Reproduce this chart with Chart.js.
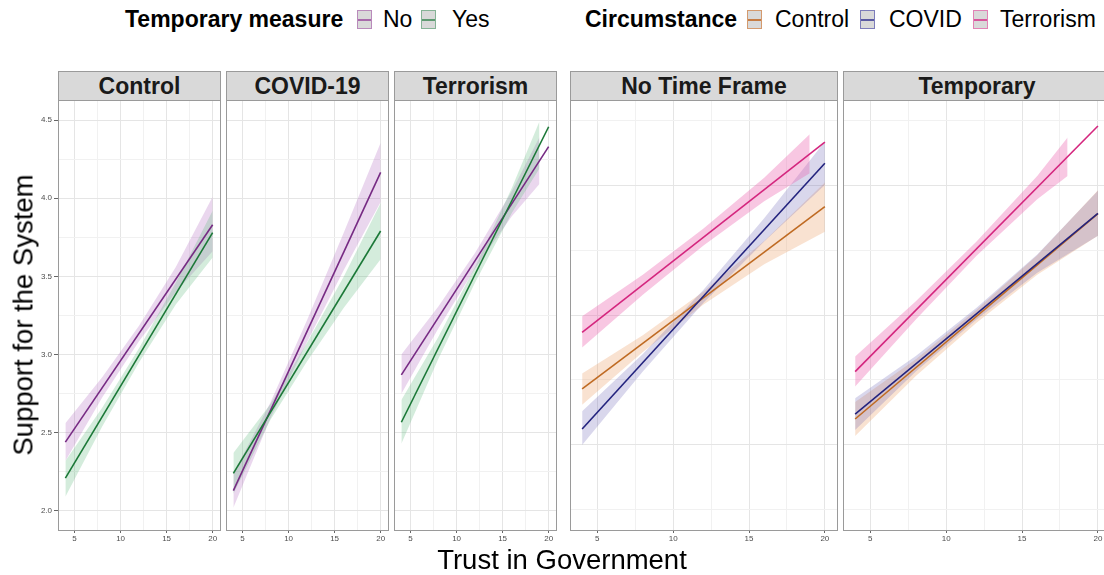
<!DOCTYPE html>
<html>
<head>
<meta charset="utf-8">
<script src="https://cdn.jsdelivr.net/npm/chart.js@4.4.1/dist/chart.umd.min.js"></script>
<style>
  html, body { margin: 0; padding: 0; background: #fff; }
  body { position: relative; width: 1104px; height: 575px; overflow: hidden;
         font-family: "Liberation Sans", Arial, Helvetica, sans-serif; }
  canvas { position: absolute; left: 0; top: 0; }
  .t { position: absolute; white-space: nowrap; color: #000; }
  .lg { font-size: 23px; line-height: 23px; top: 8px; }
  .b { font-weight: bold; }
  .key { position: absolute; top: 10px; width: 15px; height: 19px; box-sizing: border-box;
         border: 1px solid; background: #d9d9d9; }
  .key i { position: absolute; left: 0; right: 0; top: 8px; height: 1.5px; }
  .strip { position: absolute; top: 71px; height: 30px; box-sizing: border-box;
           border: 1px solid #9a9a9a; background: #d9d9d9; font-weight: bold;
           font-size: 23px; line-height: 28px; text-align: center; color: #1a1a1a; white-space: nowrap; }
  .axt { position: absolute; font-size: 27.5px; line-height: 27px; white-space: nowrap; color: #000; }
</style>
</head>
<body>

<!-- legends -->
<div class="t lg b" style="left:125px">Temporary measure</div>
<div class="key" style="left:357px;border-color:#b98abb"><i style="background:#a86aab"></i></div>
<div class="t lg" style="left:383px">No</div>
<div class="key" style="left:421px;border-color:#86b396"><i style="background:#5f9a72"></i></div>
<div class="t lg" style="left:452px">Yes</div>

<div class="t lg b" style="left:585px">Circumstance</div>
<div class="key" style="left:747px;border-color:#d49a6e"><i style="background:#c67c44"></i></div>
<div class="t lg" style="left:775px">Control</div>
<div class="key" style="left:860px;border-color:#7d7dba"><i style="background:#5a5aa2"></i></div>
<div class="t lg" style="left:889px">COVID</div>
<div class="key" style="left:973px;border-color:#e283b6"><i style="background:#d9569c"></i></div>
<div class="t lg" style="left:1000px">Terrorism</div>

<!-- facet strips -->
<div class="strip" style="left:58px;width:163px">Control</div>
<div class="strip" style="left:226px;width:163px">COVID-19</div>
<div class="strip" style="left:394px;width:163px">Terrorism</div>
<div class="strip" style="left:570px;width:268px">No Time Frame</div>
<div class="strip" style="left:843px;width:268px">Temporary</div>

<canvas id="p1" width="1104" height="575"></canvas>
<canvas id="p2" width="1104" height="575"></canvas>
<canvas id="p3" width="1104" height="575"></canvas>
<canvas id="p4" width="1104" height="575"></canvas>
<canvas id="p5" width="1104" height="575"></canvas>

<div class="axt" style="left:562px;top:546px;transform:translateX(-50%)">Trust in Government</div>
<div class="axt" style="left:23px;top:315px;transform:translate(-50%,-50%) rotate(-90deg)">Support for the System</div>

<script>
// Trust in Government positions for fitted lines and confidence bands
const trustLine = [4, 20];
const trustBand = [4, 8, 12, 16, 20];
const trustBand19 = [4, 8, 12, 16, 19];
const trustBand18 = [4, 8, 12, 16, 18];

// Circumstance facets, split by temporary measure (No / Yes)
const controlNoLine = [2.44, 3.83];
const controlNoUpper = [2.56, 2.855, 3.185, 3.56, 4.01];
const controlNoLower = [2.32, 2.725, 3.085, 3.40, 3.66];
const controlYesLine = [2.21, 3.78];
const controlYesUpper = [2.32, 2.66, 3.04, 3.46, 3.92];
const controlYesLower = [2.09, 2.54, 2.95, 3.32, 3.62];

const covidNoLine = [2.13, 4.165];
const covidNoUpper = [2.24, 2.69, 3.22, 3.78, 4.355];
const covidNoLower = [2.02, 2.59, 3.08, 3.54, 3.975];
const covidYesLine = [2.24, 3.79];
const covidYesUpper = [2.37, 2.68, 3.075, 3.50, 3.97];
const covidYesLower = [2.11, 2.58, 2.955, 3.30, 3.61];

const terrorNoLine = [2.87, 4.33];
const terrorNoUpper = [3.00, 3.305, 3.65, 4.045, 4.39];
const terrorNoLower = [2.75, 3.165, 3.55, 3.885, 4.09];
const terrorYesLine = [2.567, 4.457];
const terrorYesUpper = [2.71, 3.11, 3.56, 4.065, 4.49];
const terrorYesLower = [2.43, 2.97, 3.46, 3.905, 4.19];

// Time-frame facets, split by circumstance
const ntfControlLine = [2.431, 3.833];
const ntfControlUpper = [2.55, 2.845, 3.18, 3.57, 4.02];
const ntfControlLower = [2.31, 2.715, 3.08, 3.39, 3.64];
const ntfCovidLine = [2.123, 4.167];
const ntfCovidUpper = [2.26, 2.70, 3.195, 3.745, 4.335];
const ntfCovidLower = [2.00, 2.565, 3.095, 3.565, 4.00];
const ntfTerrorLine = [2.867, 4.33];
const ntfTerrorUpper = [2.99, 3.31, 3.665, 4.055, 4.39];
const ntfTerrorLower = [2.75, 3.155, 3.535, 3.875, 4.09];

const tmpControlLine = [2.20, 3.78];
const tmpControlUpper = [2.33, 2.66, 3.04, 3.46, 3.96];
const tmpControlLower = [2.07, 2.53, 2.94, 3.31, 3.61];
const tmpCovidLine = [2.238, 3.782];
const tmpCovidUpper = [2.36, 2.685, 3.055, 3.465, 3.955];
const tmpCovidLower = [2.115, 2.565, 2.965, 3.325, 3.61];
const tmpTerrorLine = [2.564, 4.454];
const tmpTerrorUpper = [2.68, 3.105, 3.565, 4.07, 4.365];
const tmpTerrorLower = [2.45, 2.965, 3.455, 3.89, 4.07];

// Axis breaks
const xBreaks = [5, 7.5, 10, 12.5, 15, 17.5, 20];
const leftYBreaks = [2, 2.25, 2.5, 2.75, 3, 3.25, 3.5, 3.75, 4, 4.25, 4.5];
const rightYBreaks = [1.5, 2, 2.5, 3, 3.5, 4, 4.5];

// Colours
const COL = {
  no:      { line: '#762a83', band: 'rgba(175,100,190,0.26)' },
  yes:     { line: '#1b7837', band: 'rgba(90,180,120,0.26)' },
  control: { line: '#bf6a22', band: 'rgba(235,150,90,0.28)' },
  covid:   { line: '#23237e', band: 'rgba(110,100,180,0.26)' },
  terror:  { line: '#d4267e', band: 'rgba(235,90,170,0.34)' }
};

const pts = (xs, ys) => xs.map((x, i) => ({ x, y: ys[i] }));

const frame = {
  id: 'frame',
  afterDraw(chart) {
    const { ctx, chartArea: a } = chart;
    ctx.save();
    ctx.strokeStyle = '#9a9a9a';
    ctx.lineWidth = 1;
    ctx.strokeRect(a.left + 0.5, a.top + 0.5, a.right - a.left, a.bottom - a.top);
    ctx.restore();
  }
};

function makePanel(id, cfg) {
  const datasets = [];
  cfg.series.forEach((s, k) => {
    const upperIdx = datasets.length;
    datasets.push({
      data: pts(s.bandX, s.upper), fill: upperIdx + 1, backgroundColor: s.col.band,
      borderWidth: 0, borderColor: 'rgba(0,0,0,0)', pointRadius: 0, order: 100 - k
    });
    datasets.push({
      data: pts(s.bandX, s.lower), fill: false,
      borderWidth: 0, borderColor: 'rgba(0,0,0,0)', pointRadius: 0, order: 100 - k
    });
  });
  cfg.series.forEach((s, k) => {
    datasets.push({
      data: pts(trustLine, s.line), fill: false, borderColor: s.col.line,
      borderWidth: 1.6, pointRadius: 0, order: 50 - k
    });
  });

  const majorX = v => v % 5 === 0;
  const majorY = cfg.majorY;

  new Chart(document.getElementById(id), {
    type: 'line',
    data: { datasets },
    plugins: [frame],
    options: {
      responsive: false,
      devicePixelRatio: 1,
      animation: false,
      events: [],
      layout: { padding: { left: cfg.padL, right: cfg.padR, top: 100, bottom: 15 } },
      plugins: { legend: { display: false }, tooltip: { enabled: false } },
      elements: { line: { tension: 0 } },
      scales: {
        x: {
          type: 'linear', min: 3.2, max: cfg.xMax,
          afterBuildTicks: s => { s.ticks = xBreaks.map(v => ({ value: v })); },
          afterFit: s => { s.height = 30; },
          border: { display: false },
          grid: {
            color: c => (c.tick && !majorX(c.tick.value)) ? '#f1f1f1' : '#e5e5e5',
            lineWidth: 1,
            drawTicks: true, tickLength: 3,
            tickColor: c => (c.tick && majorX(c.tick.value)) ? '#666' : 'rgba(0,0,0,0)'
          },
          ticks: {
            autoSkip: false, maxRotation: 0, padding: 1, color: '#4d4d4d',
            font: { size: 8 },
            callback: v => majorX(v) ? String(v) : ''
          }
        },
        y: {
          type: 'linear', min: cfg.yMin, max: cfg.yMax,
          afterBuildTicks: s => { s.ticks = cfg.yBreaks.map(v => ({ value: v })); },
          afterFit: s => { s.width = cfg.yWidth; },
          border: { display: false },
          grid: {
            color: c => (c.tick && !majorY(c.tick.value)) ? '#f1f1f1' : '#e5e5e5',
            lineWidth: 1,
            drawTicks: cfg.yLabels, tickLength: 4,
            tickColor: c => (c.tick && majorY(c.tick.value)) ? '#666' : 'rgba(0,0,0,0)'
          },
          ticks: {
            display: cfg.yLabels, autoSkip: false, padding: 2, color: '#4d4d4d',
            font: { size: 8 },
            callback: v => majorY(v) ? v.toFixed(1) : ''
          }
        }
      }
    }
  });
}

const leftY = { yMin: 1.878, yMax: 4.628, yBreaks: leftYBreaks, majorY: v => Math.abs(v * 2 - Math.round(v * 2)) < 1e-9 };
const rightY = { yMin: 1.346, yMax: 4.654, yBreaks: rightYBreaks, majorY: v => Math.abs(v - Math.round(v)) < 1e-9 };

makePanel('p1', Object.assign({}, leftY, {
  padL: 20, yWidth: 38, yLabels: true, padR: 884, xMax: 20.8,
  series: [
    { col: COL.no,  line: controlNoLine,  bandX: trustBand, upper: controlNoUpper,  lower: controlNoLower },
    { col: COL.yes, line: controlYesLine, bandX: trustBand, upper: controlYesUpper, lower: controlYesLower }
  ]
}));
makePanel('p2', Object.assign({}, leftY, {
  padL: 226, yWidth: 0, yLabels: false, padR: 716, xMax: 20.8,
  series: [
    { col: COL.no,  line: covidNoLine,  bandX: trustBand, upper: covidNoUpper,  lower: covidNoLower },
    { col: COL.yes, line: covidYesLine, bandX: trustBand, upper: covidYesUpper, lower: covidYesLower }
  ]
}));
makePanel('p3', Object.assign({}, leftY, {
  padL: 394, yWidth: 0, yLabels: false, padR: 548, xMax: 20.8,
  series: [
    { col: COL.no,  line: terrorNoLine,  bandX: trustBand19, upper: terrorNoUpper,  lower: terrorNoLower },
    { col: COL.yes, line: terrorYesLine, bandX: trustBand19, upper: terrorYesUpper, lower: terrorYesLower }
  ]
}));
makePanel('p4', Object.assign({}, rightY, {
  padL: 570, yWidth: 0, yLabels: false, padR: 267, xMax: 20.8,
  series: [
    { col: COL.control, line: ntfControlLine, bandX: trustBand,   upper: ntfControlUpper, lower: ntfControlLower },
    { col: COL.covid,   line: ntfCovidLine,   bandX: trustBand,   upper: ntfCovidUpper,   lower: ntfCovidLower },
    { col: COL.terror,  line: ntfTerrorLine,  bandX: trustBand19, upper: ntfTerrorUpper,  lower: ntfTerrorLower }
  ]
}));
makePanel('p5', Object.assign({}, rightY, {
  padL: 843, yWidth: 0, yLabels: false, padR: 0, xMax: 20.4,
  series: [
    { col: COL.control, line: tmpControlLine, bandX: trustBand,   upper: tmpControlUpper, lower: tmpControlLower },
    { col: COL.covid,   line: tmpCovidLine,   bandX: trustBand,   upper: tmpCovidUpper,   lower: tmpCovidLower },
    { col: COL.terror,  line: tmpTerrorLine,  bandX: trustBand18, upper: tmpTerrorUpper,  lower: tmpTerrorLower }
  ]
}));
</script>
</body>
</html>
